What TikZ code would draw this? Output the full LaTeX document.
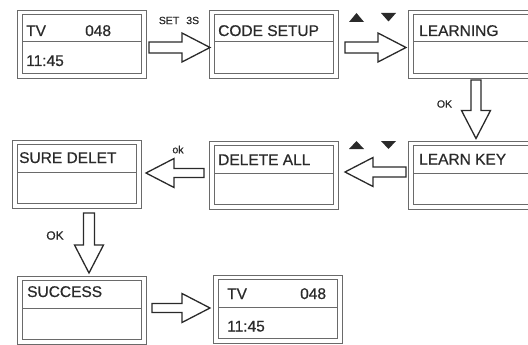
\documentclass[tikz,border=0pt]{standalone}
\usepackage{fontspec}
\setmainfont{Liberation Sans}[FakeBold=0.6]
\usetikzlibrary{calc}
\definecolor{boxgray}{HTML}{6A6A6A}
\definecolor{ink}{HTML}{2A2A2A}
\tikzset{
  screen/.style={draw=boxgray, line width=1pt, minimum width=129pt, minimum height=68pt, inner sep=0pt, anchor=north west},
  innerline/.style={draw=boxgray, line width=1pt},
  txt/.style={anchor=west, inner sep=0pt, text height=11pt, text depth=0pt, font=\fontsize{15.5}{17}\selectfont, text=ink},
  small/.style={inner sep=0pt, font=\fontsize{10.5}{12}\selectfont, text=ink},
  arrowline/.style={draw=ink, line width=1.3pt, line join=miter},
  tri/.style={fill=ink, draw=none},
}
\newcommand\screenbox[3]{%
  \node[screen] (#1) at (#2,#3) {};
  \draw[innerline] ($(#1.north west)+(5.5,4.5)$) rectangle ($(#1.south east)+(-5.5,-5.5)$);
  \draw[innerline] ($(#1.north west)+(5.5,32)$) -- ($(#1.north east)+(-5.5,32)$);
}
% block arrow from #1 to #2, shaft half width #3
\newcommand\blockarrow[3]{%
  \coordinate (hp) at ($(#2)!28pt!(#1)$);
  \draw[arrowline] ($(#1)!#3!90:(#2)$) -- ($(hp)!#3!90:(#2)$) -- ($(hp)!14.5pt!90:(#2)$)
    -- (#2) -- ($(hp)!14.5pt!-90:(#2)$) -- ($(hp)!#3!-90:(#2)$) -- ($(#1)!#3!-90:(#2)$) -- cycle;
}
\begin{document}
\begin{tikzpicture}[x=1pt,y=-1pt]
\useasboundingbox (0,0) rectangle (528,345);
\clip (0,0) rectangle (528,345);

% screens
\screenbox{tv1}{17}{10}
\screenbox{code}{209}{10}
\screenbox{learn}{408}{10}
\screenbox{learnkey}{408}{141}
\screenbox{delall}{209}{141}
\screenbox{sure}{12}{140}
\screenbox{success}{17}{276}
\screenbox{tv2}{213}{275}

% screen texts
\node[txt] (tv1a) at (26,30.5) {TV};
\node[txt] (tv1b) at (85,30.5) {048};
\node[txt] (tv1c) at (26,60.5) {11:45};
\node[txt] (codet) at (218,30.5) {CODE SETUP};
\node[txt] (learnt) at (419,30.5) {LEARNING};
\node[txt] (learnkeyt) at (419,159) {LEARN KEY};
\node[txt] (delallt) at (218,159.5) {DELETE ALL};
\node[txt] (suret) at (19,157.5) {SURE DELET};
\node[txt] (successt) at (27,291.5) {SUCCESS};
\node[txt] (tv2a) at (227,293.5) {TV};
\node[txt] (tv2b) at (300,293.5) {048};
\node[txt] (tv2c) at (227,326) {11:45};

% arrow end points
\coordinate (a1s) at (149,47.5);  \coordinate (a1e) at (210,47.5);
\coordinate (a2s) at (345,47.5);  \coordinate (a2e) at (406,47.5);
\coordinate (a3s) at (476,80);    \coordinate (a3e) at (476,138.5);
\coordinate (a4s) at (406,172);   \coordinate (a4e) at (345,172);
\coordinate (a5s) at (204,173);   \coordinate (a5e) at (146,173);
\coordinate (a6s) at (89,213);    \coordinate (a6e) at (89,273);
\coordinate (a7s) at (152,308);   \coordinate (a7e) at (210,308);

\blockarrow{a1s}{a1e}{5.5pt}
\blockarrow{a2s}{a2e}{5.5pt}
\blockarrow{a3s}{a3e}{5pt}
\blockarrow{a4s}{a4e}{5pt}
\blockarrow{a5s}{a5e}{4.5pt}
\blockarrow{a6s}{a6e}{5.5pt}
\blockarrow{a7s}{a7e}{4.5pt}

% arrow labels
\node[small] (l1) at (179,20.5) {SET\hspace{7pt}3S};
\node[small] (l2) at (444.5,104) {OK};
\node[small] (l3) at (178,149.5) {ok};
\node[small, font=\fontsize{12}{14}\selectfont] (l4) at (55,235.5) {OK};

% up / down key symbols
\fill[tri] (349,22) -- (364,22) -- (356.5,13) -- cycle;
\fill[tri] (381,13) -- (396,13) -- (388.5,21.5) -- cycle;
\fill[tri] (349,149) -- (364,149) -- (356.5,141) -- cycle;
\fill[tri] (381,141) -- (396,141) -- (388.5,149) -- cycle;
\end{tikzpicture}
\end{document}
